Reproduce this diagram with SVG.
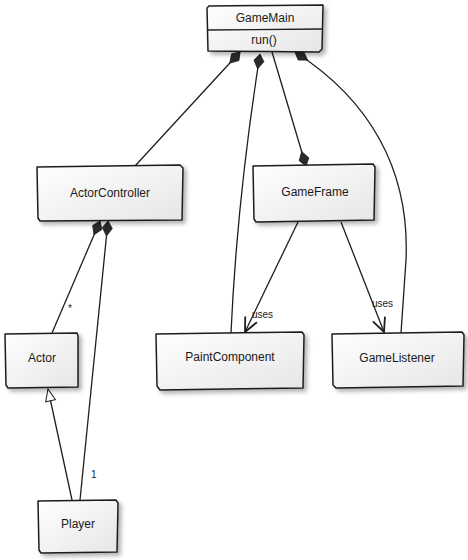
<svg xmlns="http://www.w3.org/2000/svg" width="468" height="560" viewBox="0 0 468 560">
<style>
.box{fill:url(#g);stroke:#1e1e1e;stroke-width:1.5;stroke-linejoin:round;filter:url(#sh)}
.t{font-family:"Liberation Sans",Arial,sans-serif;font-size:12px;fill:#1a1a1a;text-anchor:middle}
.lbl{font-family:"Liberation Sans",Arial,sans-serif;font-size:10px;fill:#1a1a1a}
.c{fill:none;stroke:#1e1e1e;stroke-width:1.3}
</style>
<defs>
<linearGradient id="g" x1="0" y1="0" x2="1" y2="1">
<stop offset="0" stop-color="#ffffff"/>
<stop offset="1" stop-color="#e6e6e6"/>
</linearGradient>
<filter id="sh" x="-10%" y="-10%" width="130%" height="140%">
<feDropShadow dx="3" dy="3" stdDeviation="2" flood-color="#000" flood-opacity="0.3"/>
</filter>
<marker id="dS" markerUnits="userSpaceOnUse" markerWidth="18" markerHeight="14" refX="0" refY="0" viewBox="0 -7 16 14" orient="auto">
<path d="M0,0 L7,-5 L15,0 L7,5 Z" fill="#2a2a2a" stroke="#1e1e1e" stroke-width="0.8"/>
</marker>
<marker id="dE" markerUnits="userSpaceOnUse" markerWidth="18" markerHeight="14" refX="15" refY="0" viewBox="0 -7 16 14" orient="auto">
<path d="M0,0 L8,-5 L15,0 L8,5 Z" fill="#2a2a2a" stroke="#1e1e1e" stroke-width="0.8"/>
</marker>
<marker id="oa" markerUnits="userSpaceOnUse" markerWidth="18" markerHeight="16" refX="14" refY="0" viewBox="-1 -8 17 16" orient="auto">
<path d="M0,-6.5 L14,0 L0,6.5" fill="none" stroke="#1e1e1e" stroke-width="1.8"/>
</marker>
<marker id="tri" markerUnits="userSpaceOnUse" markerWidth="16" markerHeight="14" refX="12" refY="0" viewBox="-1 -7 15 14" orient="auto">
<path d="M0,-5 L12,0 L0,5 Z" fill="#fff" stroke="#1e1e1e" stroke-width="1"/>
</marker>
</defs>

<g id="connectors">
<path class="c" d="M240,52 L135,166" marker-start="url(#dS)"/>
<path class="c" d="M260,54 Q237,200 231,333" marker-start="url(#dS)"/>
<path class="c" d="M272,52 L306,166" marker-end="url(#dE)"/>
<path class="c" d="M295,52 C370,100 410,170 406,260 L401,333" marker-start="url(#dS)"/>
<path class="c" d="M100,221 L52,333" marker-start="url(#dS)"/>
<path class="c" d="M108,221 L80,500" marker-start="url(#dS)"/>
<path class="c" d="M72,500 L48,389" marker-end="url(#tri)"/>
<path class="c" d="M298,222 L245,332" marker-end="url(#oa)"/>
<path class="c" d="M341,222 L384,332" marker-end="url(#oa)"/>
<text class="lbl" x="68" y="312">*</text>
<text class="lbl" x="91" y="478">1</text>
<text class="lbl" x="252" y="318">uses</text>
<text class="lbl" x="372" y="307">uses</text>
</g>

<g id="GameMain">
<path class="box" d="M207,8 L209,6 L323,5 L322,49 L319,52 L208,51 Z"/>
<path class="c" d="M208,30 L322,29"/>
<text class="t" x="265" y="22" font-size="11">GameMain</text>
<text class="t" x="264" y="44" font-size="11">run()</text>
</g>

<g id="ActorController">
<path class="box" d="M37,167 L180,165 L183,168 L182,220 L40,221 L38,218 Z"/>
<text class="t" x="110" y="197">ActorController</text>
</g>

<g id="GameFrame">
<path class="box" d="M253,166 L373,164 L375,167 L374,220 L256,222 L254,219 Z"/>
<text class="t" x="315" y="196">GameFrame</text>
</g>

<g id="Actor">
<path class="box" d="M5,334 L77,333 L78,336 L78,387 L8,388 L6,385 Z"/>
<text class="t" x="42" y="362">Actor</text>
</g>

<g id="PaintComponent">
<path class="box" d="M156,334 L302,332 L304,335 L303,388 L160,390 L157,386 Z"/>
<text class="t" x="230" y="361">PaintComponent</text>
</g>

<g id="GameListener">
<path class="box" d="M332,334 L462,332 L464,335 L463,386 L336,388 L333,385 Z"/>
<text class="t" x="397" y="362">GameListener</text>
</g>

<g id="Player">
<path class="box" d="M38,501 L116,500 L118,503 L117,552 L41,553 L39,550 Z"/>
<text class="t" x="78" y="528">Player</text>
</g>
</svg>
